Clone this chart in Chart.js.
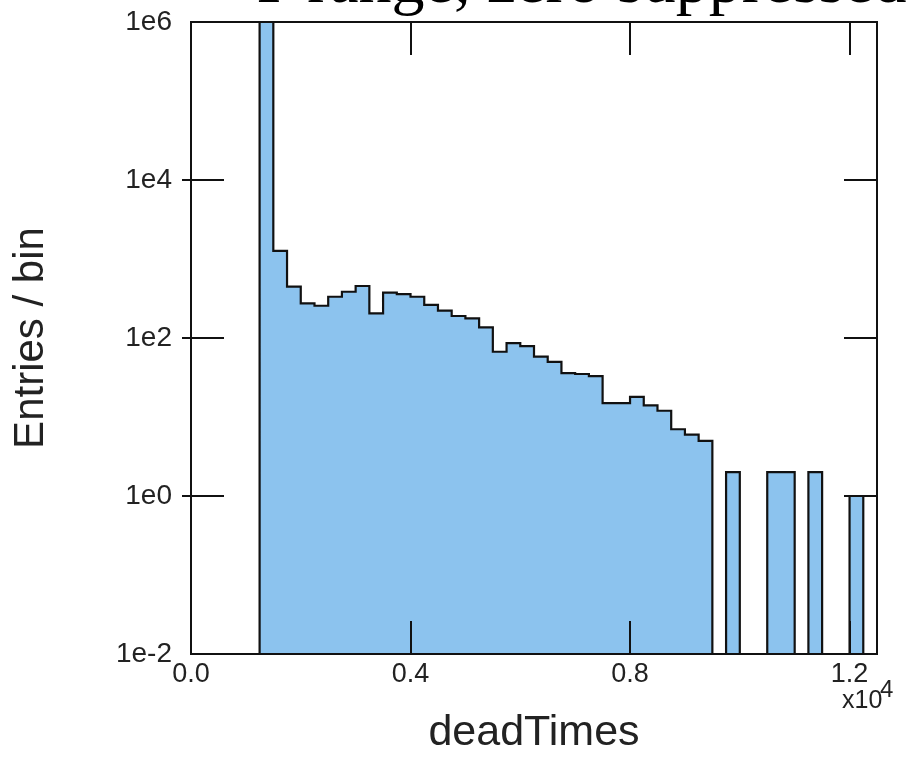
<!DOCTYPE html>
<html>
<head>
<meta charset="utf-8">
<script src="https://cdn.jsdelivr.net/npm/chart.js@4.4.1/dist/chart.umd.min.js"></script>
<style>
  html, body { margin: 0; padding: 0; background: #fff; }
  #wrap { width: 919px; height: 760px; }
</style>
</head>
<body>
<div id="wrap"><canvas id="histChart" width="919" height="760"></canvas></div>
<script>
// deadTimes histogram, 50 bins of 250 over 0..12500, log y (zero suppressed)
const binWidth = 250;
const binEdges = Array.from({ length: 50 }, (_, i) => i * binWidth);
const binCounts = [
    0, 0, 0, 0, 0, 1.5e6, 1270, 447, 275, 256,
    333, 385, 455, 205, 375, 360, 333, 262, 222, 190,
    177, 136, 67, 86, 79, 58, 50, 36, 35, 33,
    15, 15, 18, 14, 12, 7, 6, 5, 0, 2,
    0, 0, 2, 2, 0, 2, 0, 0, 1, 0
];
const xTicks = [0, 4000, 8000, 12000];
const yTicks = [1e-2, 1e0, 1e2, 1e4, 1e6];
const yTickLabels = ['1e-2', '1e0', '1e2', '1e4', '1e6'];

const X_MIN = 0, X_MAX = 12500;
const Y_MIN = 1e-2, Y_MAX = 1e6;

// stepped line: one point per bin left edge + closing point at the last edge
const points = binEdges.map((x, i) => ({ x, y: binCounts[i] > 0 ? binCounts[i] : Y_MIN }));
points.push({ x: X_MAX, y: Y_MIN });

const SANS = "'Liberation Sans', Arial, sans-serif";

// frame + tick marks on all four sides, title and exponent label
const framePlugin = {
    id: 'frame',
    afterDatasetsDraw(chart) {
        const { ctx, chartArea: a, scales } = chart;
        const len = 33;
        ctx.save();
        ctx.strokeStyle = '#111';
        ctx.lineWidth = 2;
        ctx.beginPath();
        xTicks.slice(1).forEach(v => {
            const px = Math.round(scales.x.getPixelForValue(v));
            ctx.moveTo(px, a.top); ctx.lineTo(px, a.top + len);
            ctx.moveTo(px, a.bottom); ctx.lineTo(px, a.bottom - len);
        });
        yTicks.slice(1, -1).forEach(v => {
            const py = Math.round(scales.y.getPixelForValue(v));
            ctx.moveTo(a.left - 9, py); ctx.lineTo(a.left + len, py);
            ctx.moveTo(a.right, py); ctx.lineTo(a.right - len, py);
        });
        ctx.stroke();
        ctx.strokeRect(a.left, a.top, a.right - a.left, a.bottom - a.top);

        // exponent under the last x label
        ctx.fillStyle = '#222';
        ctx.textBaseline = 'alphabetic';
        ctx.textAlign = 'left';
        ctx.font = `25px ${SANS}`;
        ctx.fillText('x10', 842, 708);
        ctx.font = `24px ${SANS}`;
        ctx.fillText('4', 880, 697);

        // title, mostly above the top edge of the picture
        ctx.font = "66px 'Liberation Serif', 'Times New Roman', serif";
        ctx.fillStyle = '#000';
        ctx.fillText('Y-range, zero suppressed', 245, 2);
        ctx.restore();
    }
};

new Chart(document.getElementById('histChart'), {
    type: 'line',
    data: {
        datasets: [{
            label: 'deadTimes',
            data: points,
            stepped: 'before',
            borderColor: '#111',
            borderWidth: 2.2,
            backgroundColor: '#8cc3ee',
            fill: 'start',
            pointRadius: 0,
            tension: 0,
        }]
    },
    options: {
        responsive: false,
        animation: false,
        events: [],
        layout: { padding: { top: 22, right: 42, left: 0, bottom: 0 } },
        plugins: {
            legend: { display: false },
            tooltip: { enabled: false },
        },
        scales: {
            x: {
                type: 'linear',
                min: X_MIN,
                max: X_MAX,
                afterBuildTicks: s => { s.ticks = xTicks.map(v => ({ value: v })); },
                afterFit: s => { s.height = 106; s.paddingLeft = 0; s.paddingRight = 0; },
                grid: { display: false, drawTicks: false },
                border: { display: false },
                ticks: {
                    color: '#222',
                    padding: 4,
                    maxRotation: 0,
                    font: { family: SANS, size: 27 },
                    callback: v => (v / 1e4).toFixed(1),
                },
                title: {
                    display: true,
                    text: 'deadTimes',
                    color: '#222',
                    font: { family: SANS, size: 43 },
                    padding: { top: 0, bottom: 1 },
                }
            },
            y: {
                type: 'logarithmic',
                min: Y_MIN,
                max: Y_MAX,
                afterBuildTicks: s => { s.ticks = yTicks.map(v => ({ value: v })); },
                afterFit: s => { s.width = 191; s.paddingTop = 0; s.paddingBottom = 0; },
                grid: { display: false, drawTicks: false },
                border: { display: false },
                ticks: {
                    color: '#222',
                    padding: 19,
                    font: { family: SANS, size: 28 },
                    callback: (v) => yTickLabels[yTicks.indexOf(v)] ?? '',
                },
                title: {
                    display: true,
                    text: 'Entries / bin',
                    color: '#222',
                    font: { family: SANS, size: 42 },
                    padding: { top: 6, bottom: 0 },
                }
            }
        }
    },
    plugins: [framePlugin]
});
</script>
</body>
</html>
